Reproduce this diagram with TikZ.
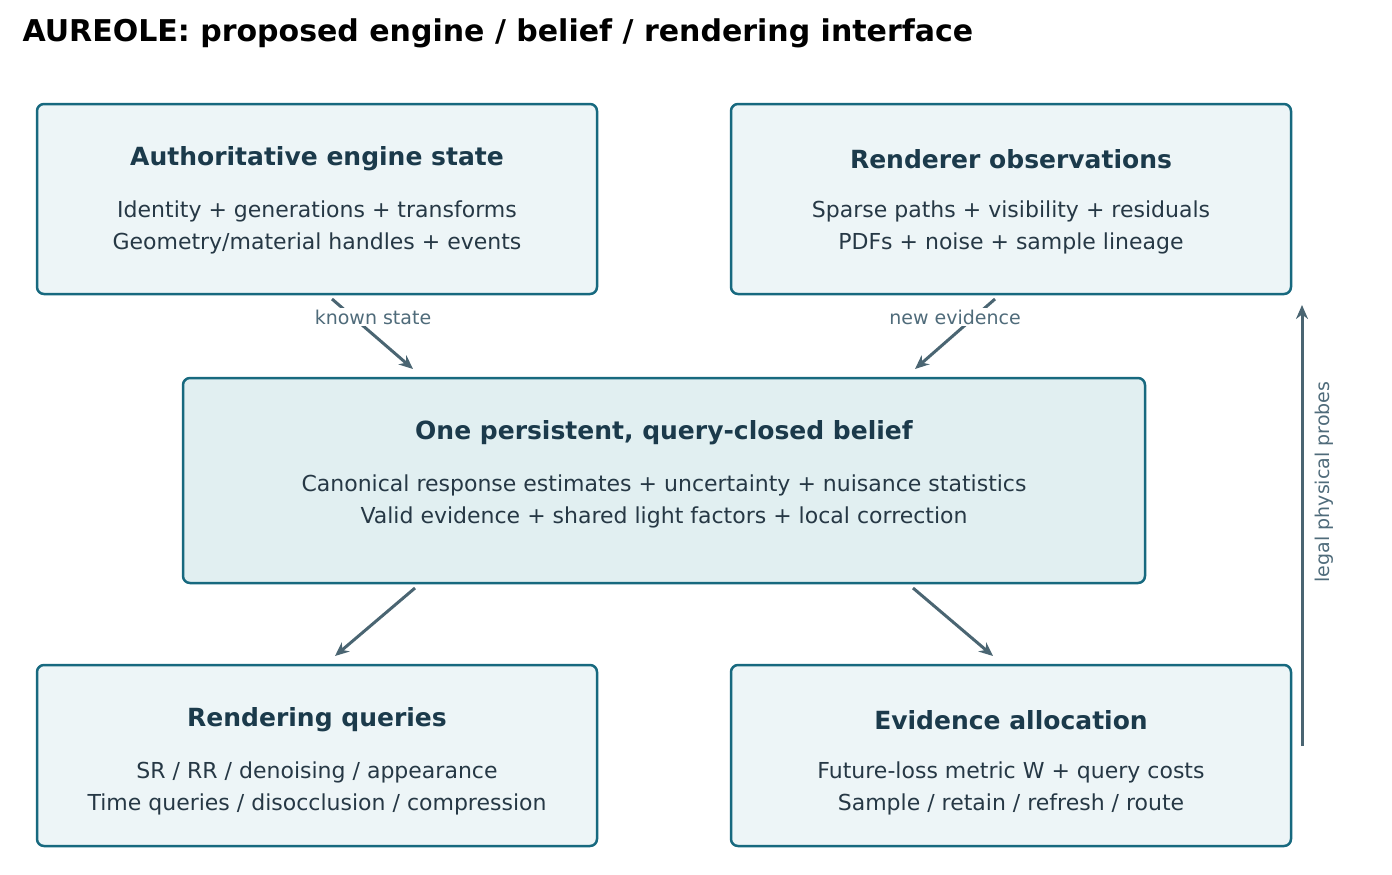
\documentclass[tikz,border=0pt]{standalone}
\usepackage{fontspec}
\setmainfont{DejaVu Sans}
\usetikzlibrary{arrows.meta}
\definecolor{bord}{HTML}{17697F}
\definecolor{fillA}{HTML}{EDF5F7}
\definecolor{fillB}{HTML}{E1EFF1}
\definecolor{ttl}{HTML}{1B3A4B}
\definecolor{bdy}{HTML}{263845}
\definecolor{arr}{HTML}{4A6572}
\definecolor{lbl}{HTML}{4F6B7A}
\tikzset{
 box/.style={draw=bord,line width=2.5pt,rounded corners=7pt,fill=fillA},
 ttlt/.style={font=\fontsize{25}{30}\selectfont\bfseries,text=ttl},
 bdyt/.style={font=\fontsize{22}{32}\selectfont,text=bdy,align=center},
 conn/.style={draw=arr,line width=3pt,-{Stealth[length=14pt,width=12pt]}},
 lab/.style={font=\fontsize{19}{22}\selectfont,text=lbl,fill=white,inner sep=2pt}
}
\begin{document}
\begin{tikzpicture}[x=1pt,y=-1pt]
\useasboundingbox (0,0) rectangle (1392,875);
\node[anchor=west,font=\fontsize{30}{34}\selectfont\bfseries] (title) at (19,33) {AUREOLE: proposed engine / belief / rendering interface};
\draw[box] (37,104) rectangle (597,294);
\node[coordinate] (A) at (317,199) {};
\node[ttlt] (At) at (317,159) {Authoritative engine state};
\node[bdyt] (Ab) at (317,227) {Identity + generations + transforms\\Geometry/material handles + events};
\draw[box] (731,104) rectangle (1291,294);
\node[ttlt] (Bt) at (1011,159) {Renderer observations};
\node[bdyt] (Bb) at (1011,227) {Sparse paths + visibility + residuals\\PDFs + noise + sample lineage};
\draw[box,fill=fillB] (183,378) rectangle (1145,583);
\node[ttlt] (Mt) at (664,433) {One persistent, query-closed belief};
\node[bdyt] (Mb) at (664,501) {Canonical response estimates + uncertainty + nuisance statistics\\Valid evidence + shared light factors + local correction};
\draw[box] (37,665) rectangle (597,846);
\node[ttlt] (Ct) at (317,720) {Rendering queries};
\node[bdyt] (Cb) at (317,788) {SR / RR / denoising / appearance\\Time queries / disocclusion / compression};
\draw[box] (731,665) rectangle (1291,846);
\node[ttlt] (Dt) at (1011,720) {Evidence allocation};
\node[bdyt] (Db) at (1011,788) {Future-loss metric W + query costs\\Sample / retain / refresh / route};
\coordinate (a1) at (332,299); \coordinate (a2) at (413,369);
\coordinate (b1) at (995,299); \coordinate (b2) at (915,369);
\coordinate (c1) at (415,588); \coordinate (c2) at (335,656);
\coordinate (d1) at (913,588); \coordinate (d2) at (993,656);
\coordinate (e1) at (1302,746); \coordinate (e2) at (1302,305);
\draw[conn] (a1) -- (a2);
\draw[conn] (b1) -- (b2);
\draw[conn] (c1) -- (c2);
\draw[conn] (d1) -- (d2);
\draw[conn] (e1) -- (e2);
\node[lab] (la) at (373,317) {known state};
\node[lab] (lb) at (955,317) {new evidence};
\node[font=\fontsize{19}{22}\selectfont,text=lbl,rotate=90] (le) at (1324,482) {legal physical probes};
\end{tikzpicture}
\end{document}
